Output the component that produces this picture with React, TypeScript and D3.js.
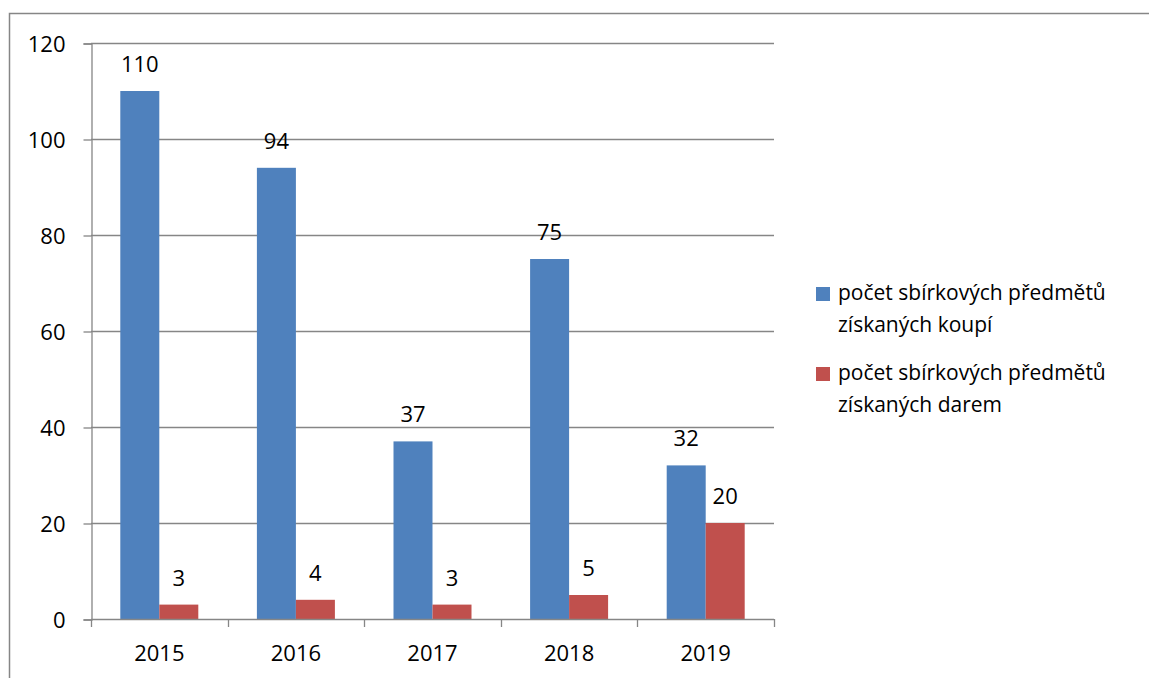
import React, { useEffect, useRef } from 'react';
import * as d3 from 'd3';

const years = ['2015', '2016', '2017', '2018', '2019'];
const purchased = [110, 94, 37, 75, 32];
const donated = [3, 4, 3, 5, 20];
const seriesNames = [
  ['počet sbírkových předmětů', 'získaných koupí'],
  ['počet sbírkových předmětů', 'získaných darem'],
];
const seriesColors = ['#4F81BD', '#C0504D'];
const yTicks = [0, 20, 40, 60, 80, 100, 120];

const FONT = "'Open Sans', sans-serif";

export default function App() {
  const ref = useRef<SVGSVGElement>(null);

  useEffect(() => {
    const svg = d3.select(ref.current);
    svg.selectAll('*').remove();

    // outer frame
    svg.append('path')
      .attr('d', 'M9.5,700 L9.5,13.5 L1200,13.5')
      .attr('fill', 'none')
      .attr('stroke', '#868686')
      .attr('stroke-width', 1.5);

    const left = 91, right = 774, top = 43, bottom = 619;

    const x = d3.scaleBand().domain(years).range([left, right]);
    const y = d3.scaleLinear().domain([0, 120]).range([bottom, top]);
    const bw = x.bandwidth();
    const x1 = d3.scaleBand().domain(['0', '1']).range([bw / 2 - 39, bw / 2 + 39]);

    // gridlines
    svg.append('g')
      .selectAll('line')
      .data(yTicks.filter((t) => t > 0))
      .enter()
      .append('line')
      .attr('x1', left)
      .attr('x2', right)
      .attr('y1', (d) => Math.round(y(d)) + 0.5)
      .attr('y2', (d) => Math.round(y(d)) + 0.5)
      .attr('stroke', '#868686')
      .attr('stroke-width', 1.3);

    // y axis
    const yAxis = svg.append('g').attr('transform', `translate(${left + 0.5},0.5)`)
      .call(d3.axisLeft(y).tickValues(yTicks).tickSize(8).tickPadding(18).tickFormat(d3.format('d')));
    yAxis.select('.domain').attr('stroke', '#868686').attr('stroke-width', 1.3);
    yAxis.selectAll('line').attr('stroke', '#868686').attr('stroke-width', 1.3);
    yAxis.selectAll('text')
      .attr('font-family', FONT)
      .attr('font-size', 22)
      .attr('fill', '#000')
      .attr('dy', '0.36em');

    // bars
    const data = years.map((yr, i) => ({ yr, vals: [purchased[i], donated[i]] }));
    const groups = svg.append('g')
      .selectAll('g')
      .data(data)
      .enter()
      .append('g')
      .attr('transform', (d) => `translate(${x(d.yr)},0)`);

    groups.selectAll('rect')
      .data((d) => d.vals.map((v, k) => ({ v, k })))
      .enter()
      .append('rect')
      .attr('x', (d) => x1(String(d.k)))
      .attr('width', x1.bandwidth())
      .attr('y', (d) => y(d.v))
      .attr('height', (d) => bottom - y(d.v))
      .attr('fill', (d) => seriesColors[d.k]);

    groups.selectAll('text')
      .data((d) => d.vals.map((v, k) => ({ v, k })))
      .enter()
      .append('text')
      .attr('x', (d) => x1(String(d.k)) + x1.bandwidth() / 2)
      .attr('y', (d) => y(d.v) - 19)
      .attr('text-anchor', 'middle')
      .attr('font-family', FONT)
      .attr('font-size', 22)
      .attr('fill', '#000')
      .text((d) => d.v);

    // x axis
    const xAxis = svg.append('g').attr('transform', `translate(0,${bottom + 0.5})`)
      .call(d3.axisBottom(x).tickSize(0).tickPadding(26));
    xAxis.select('.domain').remove();
    xAxis.selectAll('line').remove();
    xAxis.selectAll('text')
      .attr('font-family', FONT)
      .attr('font-size', 22)
      .attr('fill', '#000');
    svg.append('line')
      .attr('x1', left).attr('x2', right)
      .attr('y1', bottom + 0.5).attr('y2', bottom + 0.5)
      .attr('stroke', '#868686').attr('stroke-width', 1.3);
    const bounds = years.map((yr) => x(yr) as number).concat([right]);
    svg.append('g')
      .selectAll('line')
      .data(bounds)
      .enter()
      .append('line')
      .attr('x1', (d) => Math.round(d) + 0.5)
      .attr('x2', (d) => Math.round(d) + 0.5)
      .attr('y1', bottom)
      .attr('y2', bottom + 8)
      .attr('stroke', '#868686')
      .attr('stroke-width', 1.3);

    // legend
    const legendY = [287, 367];
    seriesNames.forEach((lines, i) => {
      const g = svg.append('g').attr('transform', `translate(816,${legendY[i]})`);
      g.append('rect').attr('width', 14).attr('height', 14).attr('fill', seriesColors[i]);
      g.append('text')
        .attr('x', 22)
        .attr('y', 13)
        .attr('font-family', FONT)
        .attr('font-size', 21)
        .attr('fill', '#000')
        .selectAll('tspan')
        .data(lines)
        .enter()
        .append('tspan')
        .attr('x', 22)
        .attr('dy', (_d, j) => (j === 0 ? 0 : 32))
        .text((d) => d);
    });
  }, []);

  return (
    <svg
      ref={ref}
      width={1149}
      height={678}
      style={{ position: 'absolute', left: 0, top: 0, background: '#fff' }}
    />
  );
}
